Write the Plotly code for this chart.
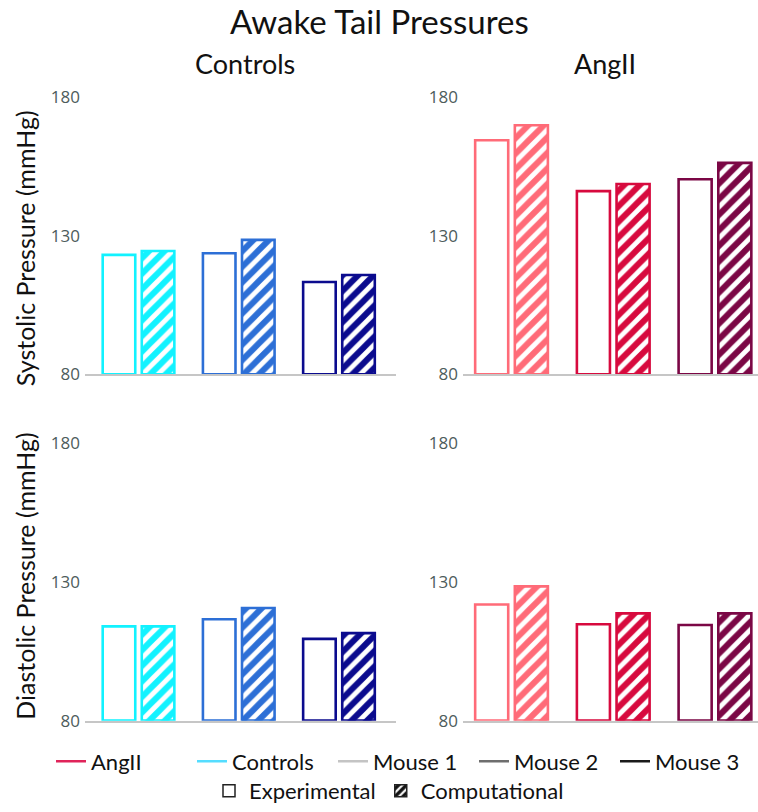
import plotly.graph_objects as go

# ---- data -------------------------------------------------------------
mice = ["Mouse 1", "Mouse 2", "Mouse 3"]

controls_colors = ["#12f2ff", "#2d6fd6", "#0b0b8e"]
angii_colors = ["#ff6b78", "#d70a3e", "#7b0745"]

controls_sys_exp = [123.1, 123.7, 113.3]
controls_sys_comp = [124.5, 128.5, 115.8]
angii_sys_exp = [164.5, 146.1, 150.4]
angii_sys_comp = [169.9, 148.7, 156.3]

controls_dia_exp = [113.9, 116.5, 109.4]
controls_dia_comp = [113.9, 120.5, 111.5]
angii_dia_exp = [121.8, 114.7, 114.4]
angii_dia_comp = [128.3, 118.6, 118.6]

y_ticks = [80, 130, 180]

legend_lines = [("AngII", "#e0245a"), ("Controls", "#55ddff"),
                ("Mouse 1", "#c4c4c4"), ("Mouse 2", "#6e6e6e"),
                ("Mouse 3", "#1a1a1a")]

# ---- layout helpers ---------------------------------------------------
W, H = 758, 812
FONT = "Lato"
TICK_FONT = "Open Sans"


def px_x(v):
    return v / W


def px_y(v):
    return 1 - v / H


BAR_W = 0.325
HALF_SEP = 0.195
LW = 2.6

fig = go.Figure()

panels = [
    ("x", "y", controls_sys_exp, controls_sys_comp, controls_colors),
    ("x2", "y2", angii_sys_exp, angii_sys_comp, angii_colors),
    ("x3", "y3", controls_dia_exp, controls_dia_comp, controls_colors),
    ("x4", "y4", angii_dia_exp, angii_dia_comp, angii_colors),
]

for xa, ya, exp, comp, cols in panels:
    fig.add_trace(go.Bar(
        x=mice, y=[v - 80 for v in exp], base=80, xaxis=xa, yaxis=ya,
        width=BAR_W, offset=-HALF_SEP - BAR_W / 2,
        marker=dict(color="white", line=dict(color=cols, width=LW)),
        showlegend=False, hoverinfo="skip"))
    fig.add_trace(go.Bar(
        x=mice, y=[v - 80 for v in comp], base=80, xaxis=xa, yaxis=ya,
        width=BAR_W, offset=HALF_SEP - BAR_W / 2,
        marker=dict(color="white", line=dict(color=cols, width=LW),
                    pattern=dict(shape="/", fgcolor=cols, bgcolor="white",
                                 size=11, solidity=0.55, fillmode="replace")),
        showlegend=False, hoverinfo="skip"))

# legend entries: colour key lines
for name, col in legend_lines:
    fig.add_trace(go.Scatter(x=[None], y=[None], mode="lines", name=name,
                             line=dict(color=col, width=2.5),
                             xaxis="x", yaxis="y", legend="legend"))

# legend entries: experimental / computational fill key
fig.add_trace(go.Bar(x=[None], y=[None], name="Experimental",
                     marker=dict(color="white", line=dict(color="#222", width=1.5)),
                     xaxis="x", yaxis="y", legend="legend2"))
fig.add_trace(go.Bar(x=[None], y=[None], name="Computational",
                     marker=dict(color="white", line=dict(color="#222", width=1.5),
                                 pattern=dict(shape="/", fgcolor="#111", bgcolor="white",
                                              size=7, solidity=0.6, fillmode="replace")),
                     xaxis="x", yaxis="y", legend="legend2"))

left_dom = [px_x(85), px_x(396)]
right_dom = [px_x(463), 1.0]
top_dom = [px_y(377), px_y(98)]
bot_dom = [px_y(726), px_y(446)]

left_range = [-0.534, 2.569]
right_range = [-0.477, 2.423]

xcommon = dict(type="category", categoryorder="array", categoryarray=mice,
               showticklabels=False, ticks="", showgrid=False, zeroline=False,
               showline=True, linecolor="#c6c6c6", linewidth=1.5, fixedrange=True)
ycommon = dict(range=[80, 180], tickvals=y_ticks, showgrid=False, zeroline=False,
               showline=False, ticks="", automargin=False, ticklabelstandoff=4,
               tickfont=dict(family=TICK_FONT, size=17, color="#4d5c5c"))

fig.update_layout(
    width=W, height=H,
    margin=dict(l=0, r=0, t=0, b=0),
    paper_bgcolor="white", plot_bgcolor="white",
    barmode="overlay",
    font=dict(family=FONT, color="#111"),
    xaxis=dict(domain=left_dom, range=left_range, anchor="y", **xcommon),
    xaxis2=dict(domain=right_dom, range=right_range, anchor="y2", **xcommon),
    xaxis3=dict(domain=left_dom, range=left_range, anchor="y3", **xcommon),
    xaxis4=dict(domain=right_dom, range=right_range, anchor="y4", **xcommon),
    yaxis=dict(domain=top_dom, anchor="x", **ycommon),
    yaxis2=dict(domain=top_dom, anchor="x2", **ycommon),
    yaxis3=dict(domain=bot_dom, anchor="x3", **ycommon),
    yaxis4=dict(domain=bot_dom, anchor="x4", **ycommon),
    legend=dict(orientation="h", x=px_x(51), xanchor="left", y=px_y(767),
                yanchor="middle", font=dict(family=FONT, size=22, color="#111"),
                entrywidth=96, entrywidthmode="pixels",
                bgcolor="rgba(0,0,0,0)"),
    legend2=dict(orientation="h", x=px_x(389), xanchor="center", y=px_y(797),
                 yanchor="middle", font=dict(family=FONT, size=22, color="#111"),
                 bgcolor="rgba(0,0,0,0)"),
    annotations=[
        dict(text="Awake Tail Pressures", x=0.5, y=px_y(21), xref="paper", yref="paper",
             showarrow=False, xanchor="center", yanchor="middle",
             font=dict(family=FONT, size=33, color="#111")),
        dict(text="Controls", x=px_x(245), y=px_y(64), xref="paper", yref="paper",
             showarrow=False, xanchor="center", yanchor="middle",
             font=dict(family=FONT, size=27, color="#111")),
        dict(text="AngII", x=px_x(605), y=px_y(64), xref="paper", yref="paper",
             showarrow=False, xanchor="center", yanchor="middle",
             font=dict(family=FONT, size=27, color="#111")),
        dict(text="Systolic Pressure (mmHg)", x=px_x(25), y=px_y(250), xref="paper",
             yref="paper", showarrow=False, textangle=-90, xanchor="center",
             yanchor="middle", font=dict(family=FONT, size=25, color="#111")),
        dict(text="Diastolic Pressure (mmHg)", x=px_x(25), y=px_y(581), xref="paper",
             yref="paper", showarrow=False, textangle=-90, xanchor="center",
             yanchor="middle", font=dict(family=FONT, size=25, color="#111")),
    ],
)

fig.write_html("out.html")
